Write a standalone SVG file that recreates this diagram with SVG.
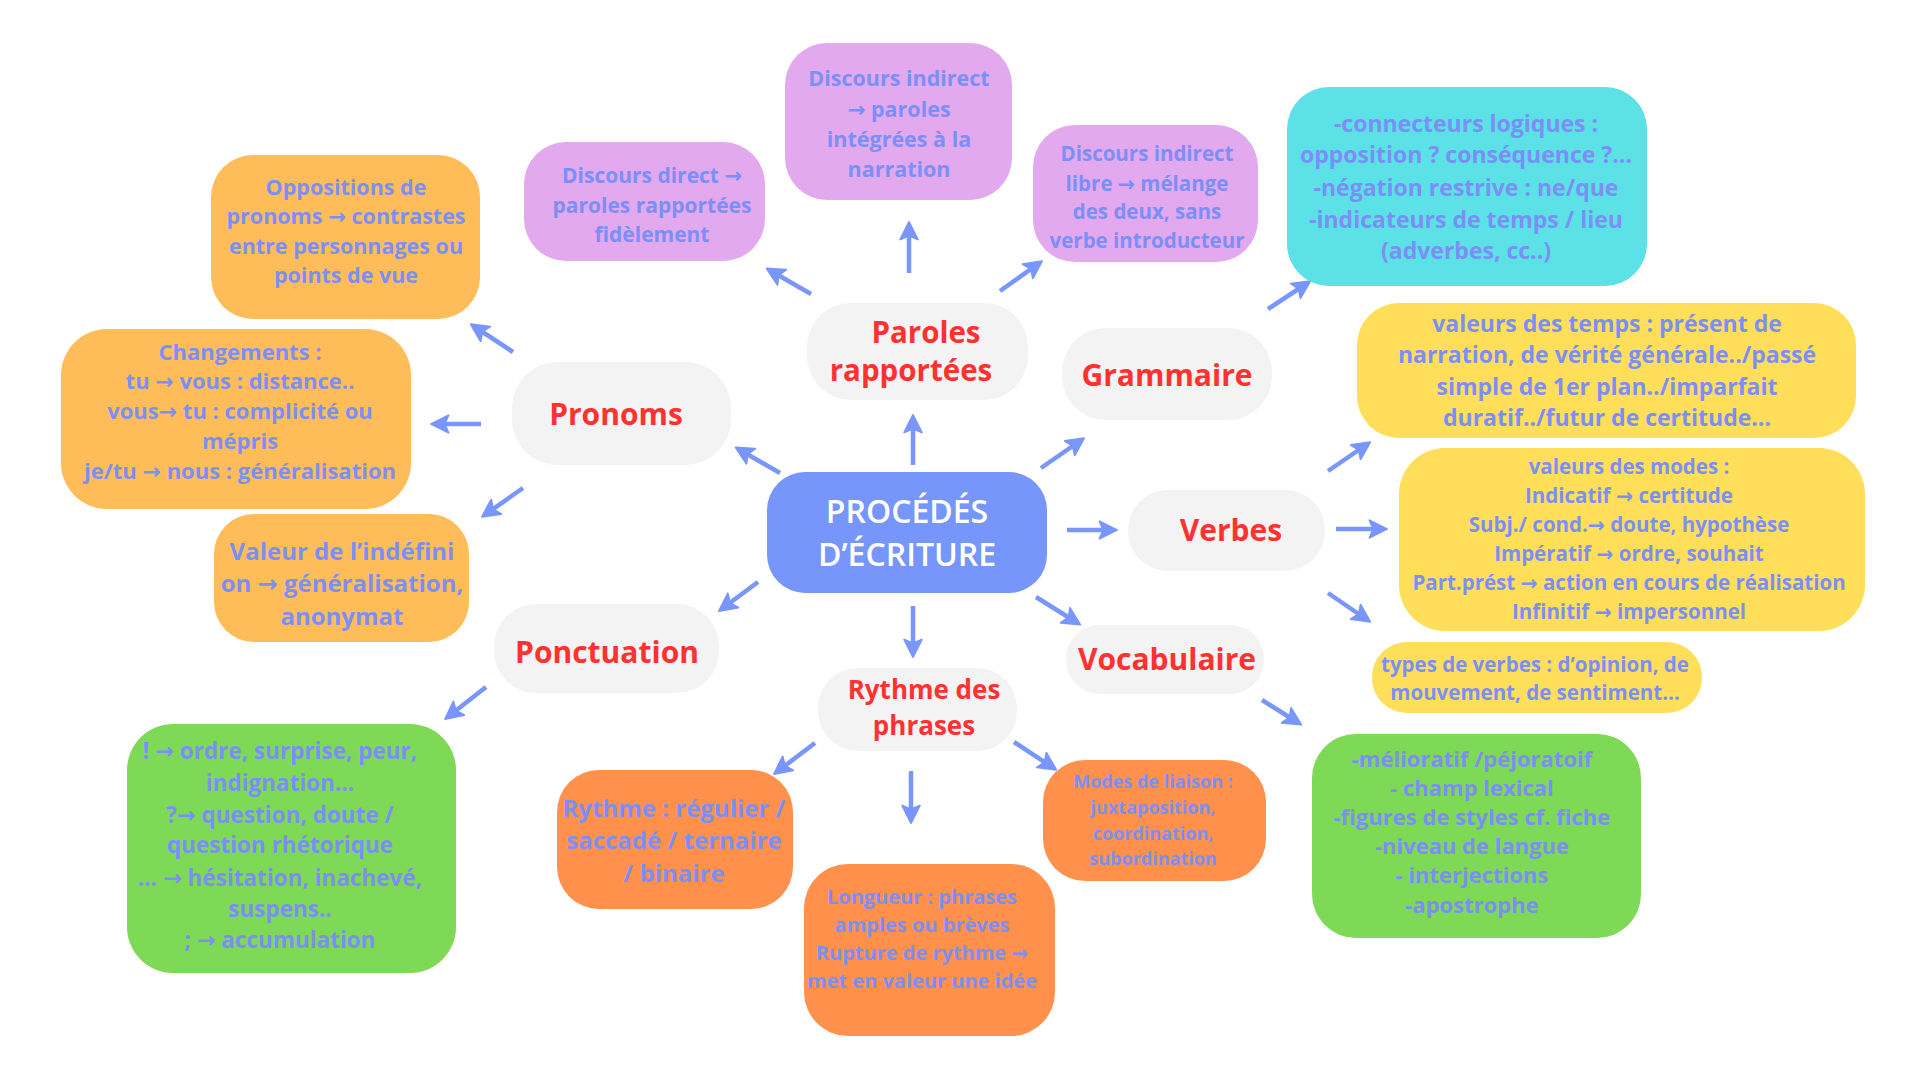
<svg xmlns="http://www.w3.org/2000/svg" width="1920" height="1080" viewBox="0 0 1920 1080">
<defs>
<marker id="ah" markerUnits="userSpaceOnUse" markerWidth="20" markerHeight="20" viewBox="0 0 16 16" refX="11" refY="8" orient="auto">
<path d="M1,1 L15,8 L1,15 L4,8 z" fill="#7896fb" stroke="#7896fb" stroke-width="1.5" stroke-linejoin="round"/>
</marker>
</defs>
<style>
.bx text{font-family:"Open Sans","DejaVu Sans",sans-serif;font-weight:700;fill:#7b8ff7;text-anchor:middle}
.hub rect{fill:#f3f3f3}
.hub text{font-family:"Open Sans","DejaVu Sans",sans-serif;font-weight:700;fill:#ff3131;text-anchor:middle;font-size:30px}
.hub text.pr{font-size:29.5px}
.hub text.ry{font-size:26px}
.lo{fill:#ffbd59}.pk{fill:#e2a9ef}.cy{fill:#5ce1e6}.ye{fill:#ffde59}.gr{fill:#7ed957}.or{fill:#ff914d}
#connectors line{stroke:#7896fb;stroke-width:4.5;marker-end:url(#ah)}
</style>
<rect width="1920" height="1080" fill="#ffffff"/>

<g id="connectors">
<line x1="780" y1="473" x2="740" y2="450"/>
<line x1="913" y1="465" x2="913" y2="420"/>
<line x1="1041" y1="468" x2="1080" y2="441"/>
<line x1="1067" y1="530" x2="1112" y2="530"/>
<line x1="1036" y1="597" x2="1076" y2="622"/>
<line x1="913" y1="606" x2="913" y2="652"/>
<line x1="758" y1="582" x2="723" y2="608"/>
<line x1="513" y1="352" x2="475" y2="327"/>
<line x1="481" y1="424" x2="436" y2="424"/>
<line x1="523" y1="488" x2="486" y2="514"/>
<line x1="811" y1="294" x2="771" y2="271"/>
<line x1="909" y1="273" x2="909" y2="227"/>
<line x1="1000" y1="291" x2="1038" y2="264"/>
<line x1="1268" y1="309" x2="1306" y2="284"/>
<line x1="1328" y1="471" x2="1366" y2="445"/>
<line x1="1336" y1="529" x2="1382" y2="529"/>
<line x1="1328" y1="593" x2="1366" y2="619"/>
<line x1="1262" y1="700" x2="1297" y2="722"/>
<line x1="486" y1="687" x2="449" y2="716"/>
<line x1="815" y1="743" x2="778" y2="771"/>
<line x1="911" y1="771" x2="911" y2="818"/>
<line x1="1014" y1="742" x2="1052" y2="767"/>
</g>

<g id="center">
<rect x="767" y="472" width="280" height="121" rx="38" fill="#7796fb"/>
<text x="907" y="523" font-family="'Open Sans','DejaVu Sans',sans-serif" font-weight="600" font-size="32" fill="#ffffff" text-anchor="middle">PROCÉDÉS</text>
<text x="907" y="566" font-family="'Open Sans','DejaVu Sans',sans-serif" font-weight="600" font-size="32" fill="#ffffff" text-anchor="middle">D’ÉCRITURE</text>
</g>

<g id="hub-pronoms" class="hub">
<rect x="512" y="362" width="219" height="103" rx="46"/>
<text x="616" y="425">Pronoms</text>
</g>
<g id="hub-paroles" class="hub">
<rect x="807" y="303" width="221" height="97" rx="44"/>
<text class="pr" x="926" y="343">Paroles</text>
<text class="pr" x="911" y="381">rapportées</text>
</g>
<g id="hub-grammaire" class="hub">
<rect x="1062" y="328" width="210" height="92" rx="44"/>
<text x="1167" y="386">Grammaire</text>
</g>
<g id="hub-verbes" class="hub">
<rect x="1128" y="490" width="197" height="81" rx="40"/>
<text x="1231" y="541">Verbes</text>
</g>
<g id="hub-vocabulaire" class="hub">
<rect x="1066" y="625" width="198" height="69" rx="34"/>
<text x="1167" y="670">Vocabulaire</text>
</g>
<g id="hub-rythme" class="hub">
<rect x="818" y="668" width="199" height="83" rx="40"/>
<text class="ry" x="924" y="699">Rythme des</text>
<text class="ry" x="924" y="735">phrases</text>
</g>
<g id="hub-ponctuation" class="hub">
<rect x="494" y="604" width="225" height="89" rx="42"/>
<text x="607" y="663">Ponctuation</text>
</g>

<g id="box-oppositions" class="bx">
<rect class="lo" x="211" y="155" width="269" height="164" rx="42"/>
<text font-size="21.5"><tspan x="346" y="195">Oppositions de</tspan><tspan x="346" y="224">pronoms → contrastes</tspan><tspan x="346" y="254">entre personnages ou</tspan><tspan x="346" y="283">points de vue</tspan></text>
</g>
<g id="box-changements" class="bx">
<rect class="lo" x="61" y="329" width="350" height="180" rx="46"/>
<text font-size="22"><tspan x="240" y="360">Changements :</tspan><tspan x="240" y="389">tu → vous : distance..</tspan><tspan x="240" y="419">vous→ tu  : complicité ou</tspan><tspan x="240" y="449">mépris</tspan><tspan x="240" y="479">je/tu → nous : généralisation</tspan></text>
</g>
<g id="box-indefini" class="bx">
<rect class="lo" x="214" y="514" width="255" height="128" rx="40"/>
<text font-size="24"><tspan x="342" y="560">Valeur de l’indéfini</tspan><tspan x="342" y="592">on → généralisation,</tspan><tspan x="342" y="625">anonymat</tspan></text>
</g>
<g id="box-ponctuation" class="bx">
<rect class="gr" x="127" y="724" width="329" height="249" rx="46"/>
<text font-size="22.5"><tspan x="280" y="759">! → ordre, surprise, peur,</tspan><tspan x="280" y="791">indignation…</tspan><tspan x="280" y="823">?→ question, doute /</tspan><tspan x="280" y="853">question rhétorique</tspan><tspan x="280" y="886">… → hésitation, inachevé,</tspan><tspan x="280" y="917">suspens..</tspan><tspan x="280" y="948">; → accumulation</tspan></text>
</g>
<g id="box-direct" class="bx">
<rect class="pk" x="524" y="142" width="241" height="119" rx="42"/>
<text font-size="21"><tspan x="652" y="183">Discours direct →</tspan><tspan x="652" y="213">paroles rapportées</tspan><tspan x="652" y="242">fidèlement</tspan></text>
</g>
<g id="box-indirect" class="bx">
<rect class="pk" x="785" y="43" width="227" height="157" rx="42"/>
<text font-size="21.5"><tspan x="899" y="86">Discours indirect</tspan><tspan x="899" y="117">→ paroles</tspan><tspan x="899" y="147">intégrées à la</tspan><tspan x="899" y="177">narration</tspan></text>
</g>
<g id="box-libre" class="bx">
<rect class="pk" x="1033" y="125" width="225" height="137" rx="42"/>
<text font-size="20.5"><tspan x="1147" y="161">Discours indirect</tspan><tspan x="1147" y="191">libre → mélange</tspan><tspan x="1147" y="219">des deux, sans</tspan><tspan x="1147" y="248">verbe introducteur</tspan></text>
</g>
<g id="box-grammaire" class="bx">
<rect class="cy" x="1287" y="87" width="360" height="199" rx="42"/>
<text font-size="23"><tspan x="1466" y="132">-connecteurs logiques :</tspan><tspan x="1466" y="163">opposition ? conséquence ?...</tspan><tspan x="1466" y="196">-négation restrive : ne/que</tspan><tspan x="1466" y="228">-indicateurs de temps / lieu</tspan><tspan x="1466" y="259">(adverbes, cc..)</tspan></text>
</g>
<g id="box-temps" class="bx">
<rect class="ye" x="1357" y="303" width="499" height="135" rx="42"/>
<text font-size="23"><tspan x="1607" y="332">valeurs des temps : présent de</tspan><tspan x="1607" y="363">narration, de vérité générale../passé</tspan><tspan x="1607" y="395">simple de 1er plan../imparfait</tspan><tspan x="1607" y="426">duratif../futur de certitude...</tspan></text>
</g>
<g id="box-modes" class="bx">
<rect class="ye" x="1399" y="448" width="466" height="183" rx="46"/>
<text font-size="20.5"><tspan x="1629" y="474">valeurs des modes :</tspan><tspan x="1629" y="503">Indicatif → certitude</tspan><tspan x="1629" y="532">Subj./ cond.→ doute, hypothèse</tspan><tspan x="1629" y="561">Impératif → ordre, souhait</tspan><tspan x="1629" y="590">Part.prést → action en cours de réalisation</tspan><tspan x="1629" y="619">Infinitif → impersonnel</tspan></text>
</g>
<g id="box-types" class="bx">
<rect class="ye" x="1372" y="642" width="330" height="71" rx="35"/>
<text font-size="20.5"><tspan x="1535" y="672">types de verbes : d’opinion, de</tspan><tspan x="1535" y="700">mouvement, de sentiment…</tspan></text>
</g>
<g id="box-vocabulaire" class="bx">
<rect class="gr" x="1312" y="734" width="329" height="204" rx="44"/>
<text font-size="22"><tspan x="1472" y="767">-mélioratif /péjoratoif</tspan><tspan x="1472" y="796">- champ lexical</tspan><tspan x="1472" y="825">-figures de styles cf. fiche</tspan><tspan x="1472" y="854">-niveau de langue</tspan><tspan x="1472" y="883">- interjections</tspan><tspan x="1472" y="913">-apostrophe</tspan></text>
</g>
<g id="box-rythme" class="bx">
<rect class="or" x="557" y="770" width="236" height="139" rx="42"/>
<text font-size="24"><tspan x="674" y="817">Rythme : régulier /</tspan><tspan x="674" y="849">saccadé / ternaire</tspan><tspan x="674" y="882">/ binaire</tspan></text>
</g>
<g id="box-longueur" class="bx">
<rect class="or" x="804" y="864" width="251" height="172" rx="44"/>
<text font-size="20"><tspan x="922" y="904">Longueur : phrases</tspan><tspan x="922" y="932">amples ou brèves</tspan><tspan x="922" y="960">Rupture de rythme →</tspan><tspan x="922" y="988">met en valeur une idée</tspan></text>
</g>
<g id="box-liaison" class="bx">
<rect class="or" x="1043" y="760" width="223" height="121" rx="42"/>
<text font-size="18"><tspan x="1153" y="788">Modes de liaison :</tspan><tspan x="1153" y="814">juxtaposition,</tspan><tspan x="1153" y="840">coordination,</tspan><tspan x="1153" y="865">subordination</tspan></text>
</g>
</svg>
